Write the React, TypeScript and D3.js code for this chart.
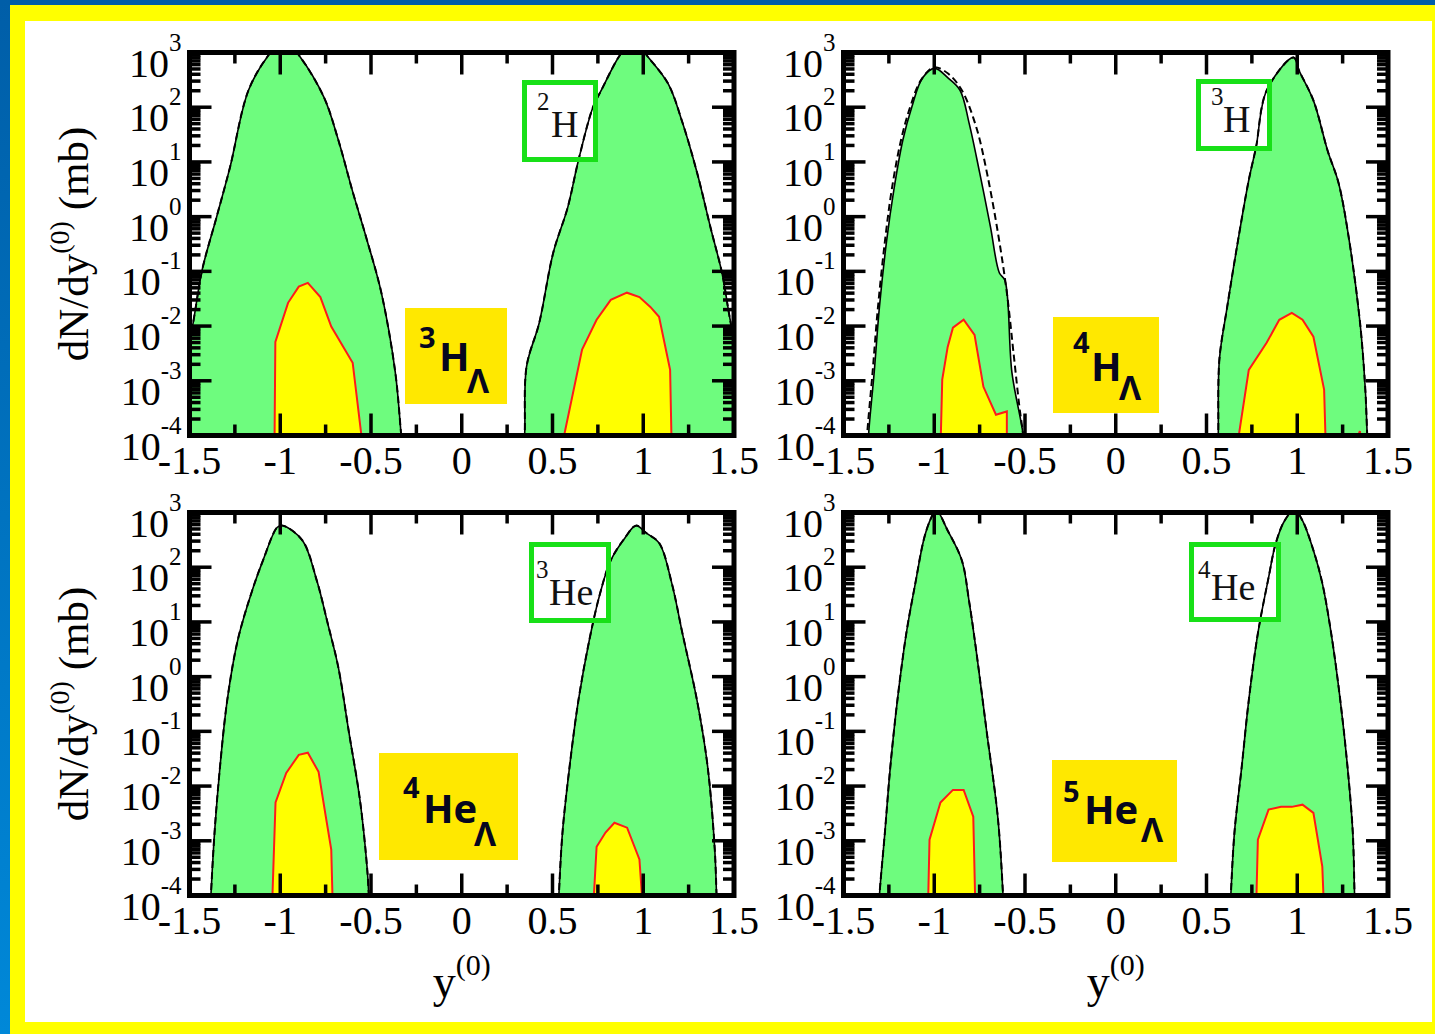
import React from 'react';
import * as d3 from 'd3';

const W = 1435;
const H = 1034;

// ---- axis ticks ----
const xMajor = [-1.5, -1, -0.5, 0, 0.5, 1, 1.5];
const xMajorLabels = ['-1.5', '-1', '-0.5', '0', '0.5', '1', '1.5'];
const xMinor = [-1.25, -0.75, -0.25, 0.25, 0.75, 1.25];
const yDecadeExps = [-4, -3, -2, -1, 0, 1, 2, 3];
const yMinorMult = [2, 3, 4, 5, 6, 7, 8, 9];

type P = [number, number]; // [y(0), log10(dN/dy in mb)]

// ---- panel 1 : 2H / 3H_Lambda ----
const d2HLeft: P[] = [[-1.56, -3.3], [-1.48, -1.94], [-1.43, -0.97], [-1.351, -0.01], [-1.277, 0.9], [-1.175, 2.31], [-1.065, 2.95], [-0.98, 3.25], [-0.897, 2.95], [-0.759, 2.18], [-0.68, 1.4], [-0.603, 0.48], [-0.522, -0.43], [-0.443, -1.39], [-0.366, -2.85], [-0.335, -3.94], [-0.325, -4.3]];
const d2HRight: P[] = [[0.34, -4.3], [0.347, -3.94], [0.357, -2.74], [0.427, -1.94], [0.504, -0.66], [0.584, 0.17], [0.643, 1.03], [0.723, 2.0], [0.772, 2.33], [0.871, 2.95], [0.95, 3.25], [1.019, 2.95], [1.137, 2.43], [1.216, 1.72], [1.296, 0.81], [1.373, -0.23], [1.434, -1.03], [1.472, -1.76], [1.55, -3.2]];
const d3HLLeft: P[] = [[-1.032, -4.3], [-1.027, -2.29], [-0.957, -1.575], [-0.898, -1.28], [-0.848, -1.21], [-0.779, -1.47], [-0.719, -2.01], [-0.601, -2.67], [-0.542, -4.3]];
const d3HLRight: P[] = [[0.545, -4.3], [0.663, -2.43], [0.743, -1.885], [0.821, -1.52], [0.91, -1.39], [0.979, -1.47], [1.039, -1.65], [1.087, -1.83], [1.148, -2.8], [1.157, -4.3]];

// ---- panel 2 : 3H / 4H_Lambda ----
const d3HLeft: P[] = [[-1.365, -4.3], [-1.361, -3.95], [-1.331, -2.85], [-1.302, -1.65], [-1.262, -0.43], [-1.223, 0.48], [-1.173, 1.4], [-1.124, 2.0], [-1.064, 2.54], [-0.996, 2.71], [-0.926, 2.54], [-0.858, 2.31], [-0.808, 1.71], [-0.749, 0.79], [-0.69, -0.19], [-0.641, -1.03], [-0.611, -1.16], [-0.572, -2.85], [-0.512, -3.95], [-0.505, -4.3]];
const d3HLeftDashed: P[] = [[-1.375, -4.3], [-1.369, -3.95], [-1.34, -2.85], [-1.31, -1.65], [-1.271, -0.43], [-1.232, 0.54], [-1.183, 1.4], [-1.133, 2.0], [-1.074, 2.49], [-1.002, 2.73], [-0.926, 2.62], [-0.848, 2.31], [-0.768, 1.63], [-0.709, 0.79], [-0.649, -0.3], [-0.6, -1.39], [-0.561, -2.56], [-0.531, -3.47], [-0.512, -3.95], [-0.505, -4.3]];
const d3HRight: P[] = [[0.563, -4.3], [0.565, -3.95], [0.571, -2.61], [0.614, -1.65], [0.674, -0.43], [0.733, 0.67], [0.773, 1.27], [0.832, 2.31], [0.98, 2.91], [1.01, 2.67], [1.089, 2.125], [1.167, 1.21], [1.228, 0.61], [1.286, -0.43], [1.346, -1.94], [1.375, -3.16], [1.385, -3.95], [1.39, -4.3]];
const d4HLLeft: P[] = [[-0.966, -4.3], [-0.956, -2.98], [-0.926, -2.38], [-0.897, -2.03], [-0.838, -1.885], [-0.778, -2.16], [-0.729, -3.11], [-0.66, -3.62], [-0.6, -3.56], [-0.6, -4.3]];
const d4HLRight: P[] = [[0.664, -4.3], [0.733, -2.8], [0.832, -2.3], [0.901, -1.885], [0.97, -1.76], [1.029, -1.885], [1.089, -2.195], [1.148, -3.16], [1.158, -4.3]];
const d4HLTail: P[] = [[1.3, -4.3], [1.345, -3.92], [1.36, -4.3]];

// ---- panel 3 : 3He / 4He_Lambda ----
const d3HeLeft: P[] = [[-1.386, -4.3], [-1.382, -4.0], [-1.362, -2.85], [-1.332, -1.65], [-1.292, -0.43], [-1.234, 0.67], [-1.154, 1.58], [-1.095, 2.125], [-1.016, 2.73], [-0.986, 2.76], [-0.878, 2.49], [-0.799, 1.76], [-0.739, 0.98], [-0.68, 0.17], [-0.621, -1.03], [-0.561, -2.25], [-0.522, -3.47], [-0.512, -4.0], [-0.508, -4.3]];
const d3HeRight: P[] = [[0.531, -4.3], [0.535, -4.0], [0.555, -2.85], [0.594, -1.65], [0.643, -0.43], [0.703, 0.67], [0.762, 1.52], [0.821, 2.125], [0.9, 2.54], [0.96, 2.76], [1.019, 2.62], [1.088, 2.44], [1.157, 1.71], [1.216, 0.79], [1.296, -0.43], [1.355, -1.65], [1.394, -3.16], [1.404, -4.0], [1.408, -4.3]];
const d4HeLLeft: P[] = [[-1.046, -4.3], [-1.026, -2.3], [-0.967, -1.76], [-0.898, -1.43], [-0.848, -1.39], [-0.789, -1.74], [-0.749, -2.56], [-0.719, -3.16], [-0.71, -4.3]];
const d4HeLRight: P[] = [[0.723, -4.3], [0.743, -3.11], [0.792, -2.85], [0.841, -2.67], [0.911, -2.76], [0.979, -3.34], [0.999, -4.3]];

// ---- panel 4 : 4He / 5He_Lambda ----
const d4HeLeft: P[] = [[-1.306, -4.3], [-1.302, -4.0], [-1.272, -2.85], [-1.242, -1.65], [-1.203, -0.43], [-1.154, 0.79], [-1.104, 1.71], [-1.055, 2.54], [-1.016, 2.91], [-0.99, 3.05], [-0.926, 2.67], [-0.848, 2.125], [-0.809, 1.4], [-0.769, 0.48], [-0.71, -1.03], [-0.65, -2.56], [-0.621, -4.0], [-0.618, -4.3]];
const d4HeRight: P[] = [[0.63, -4.3], [0.634, -4.0], [0.654, -2.85], [0.694, -1.65], [0.733, -0.43], [0.783, 0.79], [0.842, 1.81], [0.881, 2.43], [0.93, 2.85], [0.985, 3.05], [1.029, 2.85], [1.089, 2.31], [1.138, 1.71], [1.187, 0.79], [1.237, -0.43], [1.277, -1.65], [1.306, -2.85], [1.316, -4.0], [1.32, -4.3]];
const d5HeLLeft: P[] = [[-1.035, -4.3], [-1.026, -2.98], [-0.966, -2.3], [-0.897, -2.07], [-0.838, -2.07], [-0.785, -2.56], [-0.773, -4.3]];
const d5HeLRight: P[] = [[0.773, -4.3], [0.783, -2.98], [0.842, -2.43], [0.911, -2.38], [0.97, -2.38], [1.029, -2.34], [1.089, -2.49], [1.138, -3.47], [1.148, -4.3]];

// ---- labels ----
const isotopeNames = [['2', 'H'], ['3', 'H'], ['3', 'He'], ['4', 'He']];
const hyperNames = [['3', 'H', 'Λ'], ['4', 'H', 'Λ'], ['4', 'He', 'Λ'], ['5', 'He', 'Λ']];

const panelSeries = [
  { green: [d2HLeft, d2HRight], dashed: [d2HLeft, d2HRight], yellow: [d3HLLeft, d3HLRight] },
  { green: [d3HLeft, d3HRight], dashed: [d3HLeftDashed, d3HRight], yellow: [d4HLLeft, d4HLRight, d4HLTail] },
  { green: [d3HeLeft, d3HeRight], dashed: [d3HeLeft, d3HeRight], yellow: [d4HeLLeft, d4HeLRight] },
  { green: [d4HeLeft, d4HeRight], dashed: [d4HeLeft, d4HeRight], yellow: [d5HeLLeft, d5HeLRight] },
];

// ---- layout ----
const PW = 544.5;
const PH = 383;
const origins = [[189.5, 52.5], [843.5, 52.5], [189.5, 512.5], [843.5, 512.5]];
const isoBoxes = [[524.5, 82.5, 71, 77], [1198.5, 81.5, 71, 67], [531.5, 544.5, 77, 76], [1191.5, 544.5, 87, 75]];
const isoSupPos = [[537, 110], [1211, 105], [536, 578], [1198, 578]];
const isoMainPos = [[551, 137], [1223, 132], [549, 605], [1211, 600]];
const hyBoxes = [[405, 308, 102, 96], [1053, 317, 106, 96], [379, 753, 139, 107], [1052, 760, 125, 102]];
const hySupPos = [[419, 348], [1073, 353], [403, 798], [1063, 802]];
const hyMainPos = [[439, 371], [1091, 381], [423, 823], [1084, 824]];
const hySubPos = [[467, 393], [1119, 400], [474, 846], [1141, 842]];

const GREEN = '#6efc7e';
const YEL = '#ffff00';
const BOXYEL = '#ffe800';
const ISOGREEN = '#18e018';
const SERIF = '"Liberation Serif", "Times New Roman", serif';
const SANS = '"Open Sans", "Liberation Sans", sans-serif';

function Panel({ i }: { i: number }) {
  const [ox, oy] = origins[i];
  const x = d3.scaleLinear().domain([-1.5, 1.5]).range([ox, ox + PW]);
  const y = d3.scaleLog().domain([1e-4, 1e3]).range([oy + PH, oy]);
  const yb = oy + PH;
  const xr = ox + PW;
  const s = panelSeries[i];
  const areaG = d3.area<P>().x(d => x(d[0])).y0(yb).y1(d => y(10 ** d[1])).curve(d3.curveCatmullRom.alpha(0.5));
  const lineG = d3.line<P>().x(d => x(d[0])).y(d => y(10 ** d[1])).curve(d3.curveCatmullRom.alpha(0.5));
  const areaY = d3.area<P>().x(d => x(d[0])).y0(yb).y1(d => y(10 ** d[1])).curve(d3.curveLinear);
  const lineY = d3.line<P>().x(d => x(d[0])).y(d => y(10 ** d[1])).curve(d3.curveLinear);
  const clipId = `clip${i}`;
  const ib = isoBoxes[i];
  const hb = hyBoxes[i];
  const MAJ = 22, MIN = 11, TW = 3.5;
  const ticks: React.ReactNode[] = [];
  xMajor.forEach((v, k) => {
    ticks.push(<line key={`xb${k}`} x1={x(v)} x2={x(v)} y1={yb} y2={yb - MAJ} />);
    ticks.push(<line key={`xt${k}`} x1={x(v)} x2={x(v)} y1={oy} y2={oy + MAJ} />);
  });
  xMinor.forEach((v, k) => {
    ticks.push(<line key={`xmb${k}`} x1={x(v)} x2={x(v)} y1={yb} y2={yb - MIN} />);
    ticks.push(<line key={`xmt${k}`} x1={x(v)} x2={x(v)} y1={oy} y2={oy + MIN} />);
  });
  yDecadeExps.forEach((e, k) => {
    const yy = y(10 ** e);
    ticks.push(<line key={`yl${k}`} x1={ox} x2={ox + MAJ} y1={yy} y2={yy} />);
    ticks.push(<line key={`yr${k}`} x1={xr} x2={xr - MAJ} y1={yy} y2={yy} />);
    if (e < 3) {
      yMinorMult.forEach((m, j) => {
        const ym = y(m * 10 ** e);
        ticks.push(<line key={`yml${k}_${j}`} x1={ox} x2={ox + MIN} y1={ym} y2={ym} />);
        ticks.push(<line key={`ymr${k}_${j}`} x1={xr} x2={xr - MIN} y1={ym} y2={ym} />);
      });
    }
  });
  return (
    <g>
      <defs>
        <clipPath id={clipId}>
          <rect x={ox} y={oy} width={PW} height={PH} />
        </clipPath>
      </defs>
      <g clipPath={`url(#${clipId})`}>
        {s.green.map((d, k) => <path key={`ga${k}`} d={areaG(d) || ''} fill={GREEN} />)}
        {s.yellow.map((d, k) => <path key={`ya${k}`} d={areaY(d) || ''} fill={YEL} />)}
        <rect x={ib[0]} y={ib[1]} width={ib[2]} height={ib[3]} fill="#fff" />
        {s.green.map((d, k) => <path key={`gl${k}`} d={lineG(d) || ''} fill="none" stroke="#000" strokeWidth={1.6} />)}
        {s.dashed.map((d, k) => <path key={`dl${k}`} d={lineG(d) || ''} fill="none" stroke="#000" strokeWidth={2} strokeDasharray="7 4" />)}
        {s.yellow.map((d, k) => <path key={`yl${k}`} d={lineY(d) || ''} fill="none" stroke="#ff1a1a" strokeWidth={2} />)}
      </g>
      <g stroke="#000" strokeWidth={TW}>{ticks}</g>
      <rect x={ox} y={oy} width={PW} height={PH} fill="none" stroke="#000" strokeWidth={5} />
      {xMajor.map((v, k) => (
        <text key={`xtl${k}`} x={x(v)} y={yb + 38} textAnchor="middle" fontFamily={SERIF} fontSize={40} fill="#000">{xMajorLabels[k]}</text>
      ))}
      {yDecadeExps.map((e, k) => (
        <text key={`ytl${k}`} x={ox - 8} y={y(10 ** e) + 24} textAnchor="end" fontFamily={SERIF} fontSize={40} fill="#000">
          10<tspan dy={-26} fontSize={25}>{String(e)}</tspan>
        </text>
      ))}
      <rect x={ib[0]} y={ib[1]} width={ib[2]} height={ib[3]} fill="none" stroke={ISOGREEN} strokeWidth={5} />
      <text fontFamily={SERIF} fill="#111">
        <tspan x={isoSupPos[i][0]} y={isoSupPos[i][1]} fontSize={25}>{isotopeNames[i][0]}</tspan>
        <tspan x={isoMainPos[i][0]} y={isoMainPos[i][1]} fontSize={38}>{isotopeNames[i][1]}</tspan>
      </text>
      <rect x={hb[0]} y={hb[1]} width={hb[2]} height={hb[3]} fill={BOXYEL} />
      <text fontFamily={SANS} fontWeight="bold" fill="#06061e">
        <tspan x={hySupPos[i][0]} y={hySupPos[i][1]} fontSize={29}>{hyperNames[i][0]}</tspan>
        <tspan x={hyMainPos[i][0]} y={hyMainPos[i][1]} fontSize={40}>{hyperNames[i][1]}</tspan>
        <tspan x={hySubPos[i][0]} y={hySubPos[i][1]} fontSize={34}>{hyperNames[i][2]}</tspan>
      </text>
    </g>
  );
}

export default function App() {
  const yTitleCenters = [origins[0][1] + PH / 2, origins[2][1] + PH / 2];
  const xTitleCenters = [origins[2][0] + PW / 2, origins[3][0] + PW / 2];
  return (
    <svg width={W} height={H} viewBox={`0 0 ${W} ${H}`} style={{ position: 'absolute', left: 0, top: 0, display: 'block' }}>
      <defs>
        <linearGradient id="blueLeft" x1="0" y1="0" x2="0" y2="1">
          <stop offset="0" stopColor="#005ea8" />
          <stop offset="1" stopColor="#0088d8" />
        </linearGradient>
      </defs>
      <rect x={0} y={0} width={W} height={H} fill={YEL} />
      <rect x={0} y={0} width={W} height={5} fill="#005ea8" />
      <rect x={0} y={0} width={10} height={H} fill="url(#blueLeft)" />
      <rect x={25} y={21} width={1407} height={1001} fill="#fff" />
      {[0, 1, 2, 3].map(i => <Panel key={i} i={i} />)}
      {yTitleCenters.map((cy, k) => (
        <text key={`yt${k}`} transform={`translate(88, ${cy}) rotate(-90)`} textAnchor="middle" fontFamily={SERIF} fontSize={43} fill="#000">
          dN/dy<tspan dy={-19} fontSize={28}>(0)</tspan><tspan dy={19}> (mb)</tspan>
        </text>
      ))}
      {xTitleCenters.map((cx, k) => (
        <text key={`xt${k}`} x={cx} y={997} textAnchor="middle" fontFamily={SERIF} fontSize={46} fill="#000">
          y<tspan dy={-22} fontSize={30}>(0)</tspan>
        </text>
      ))}
    </svg>
  );
}
